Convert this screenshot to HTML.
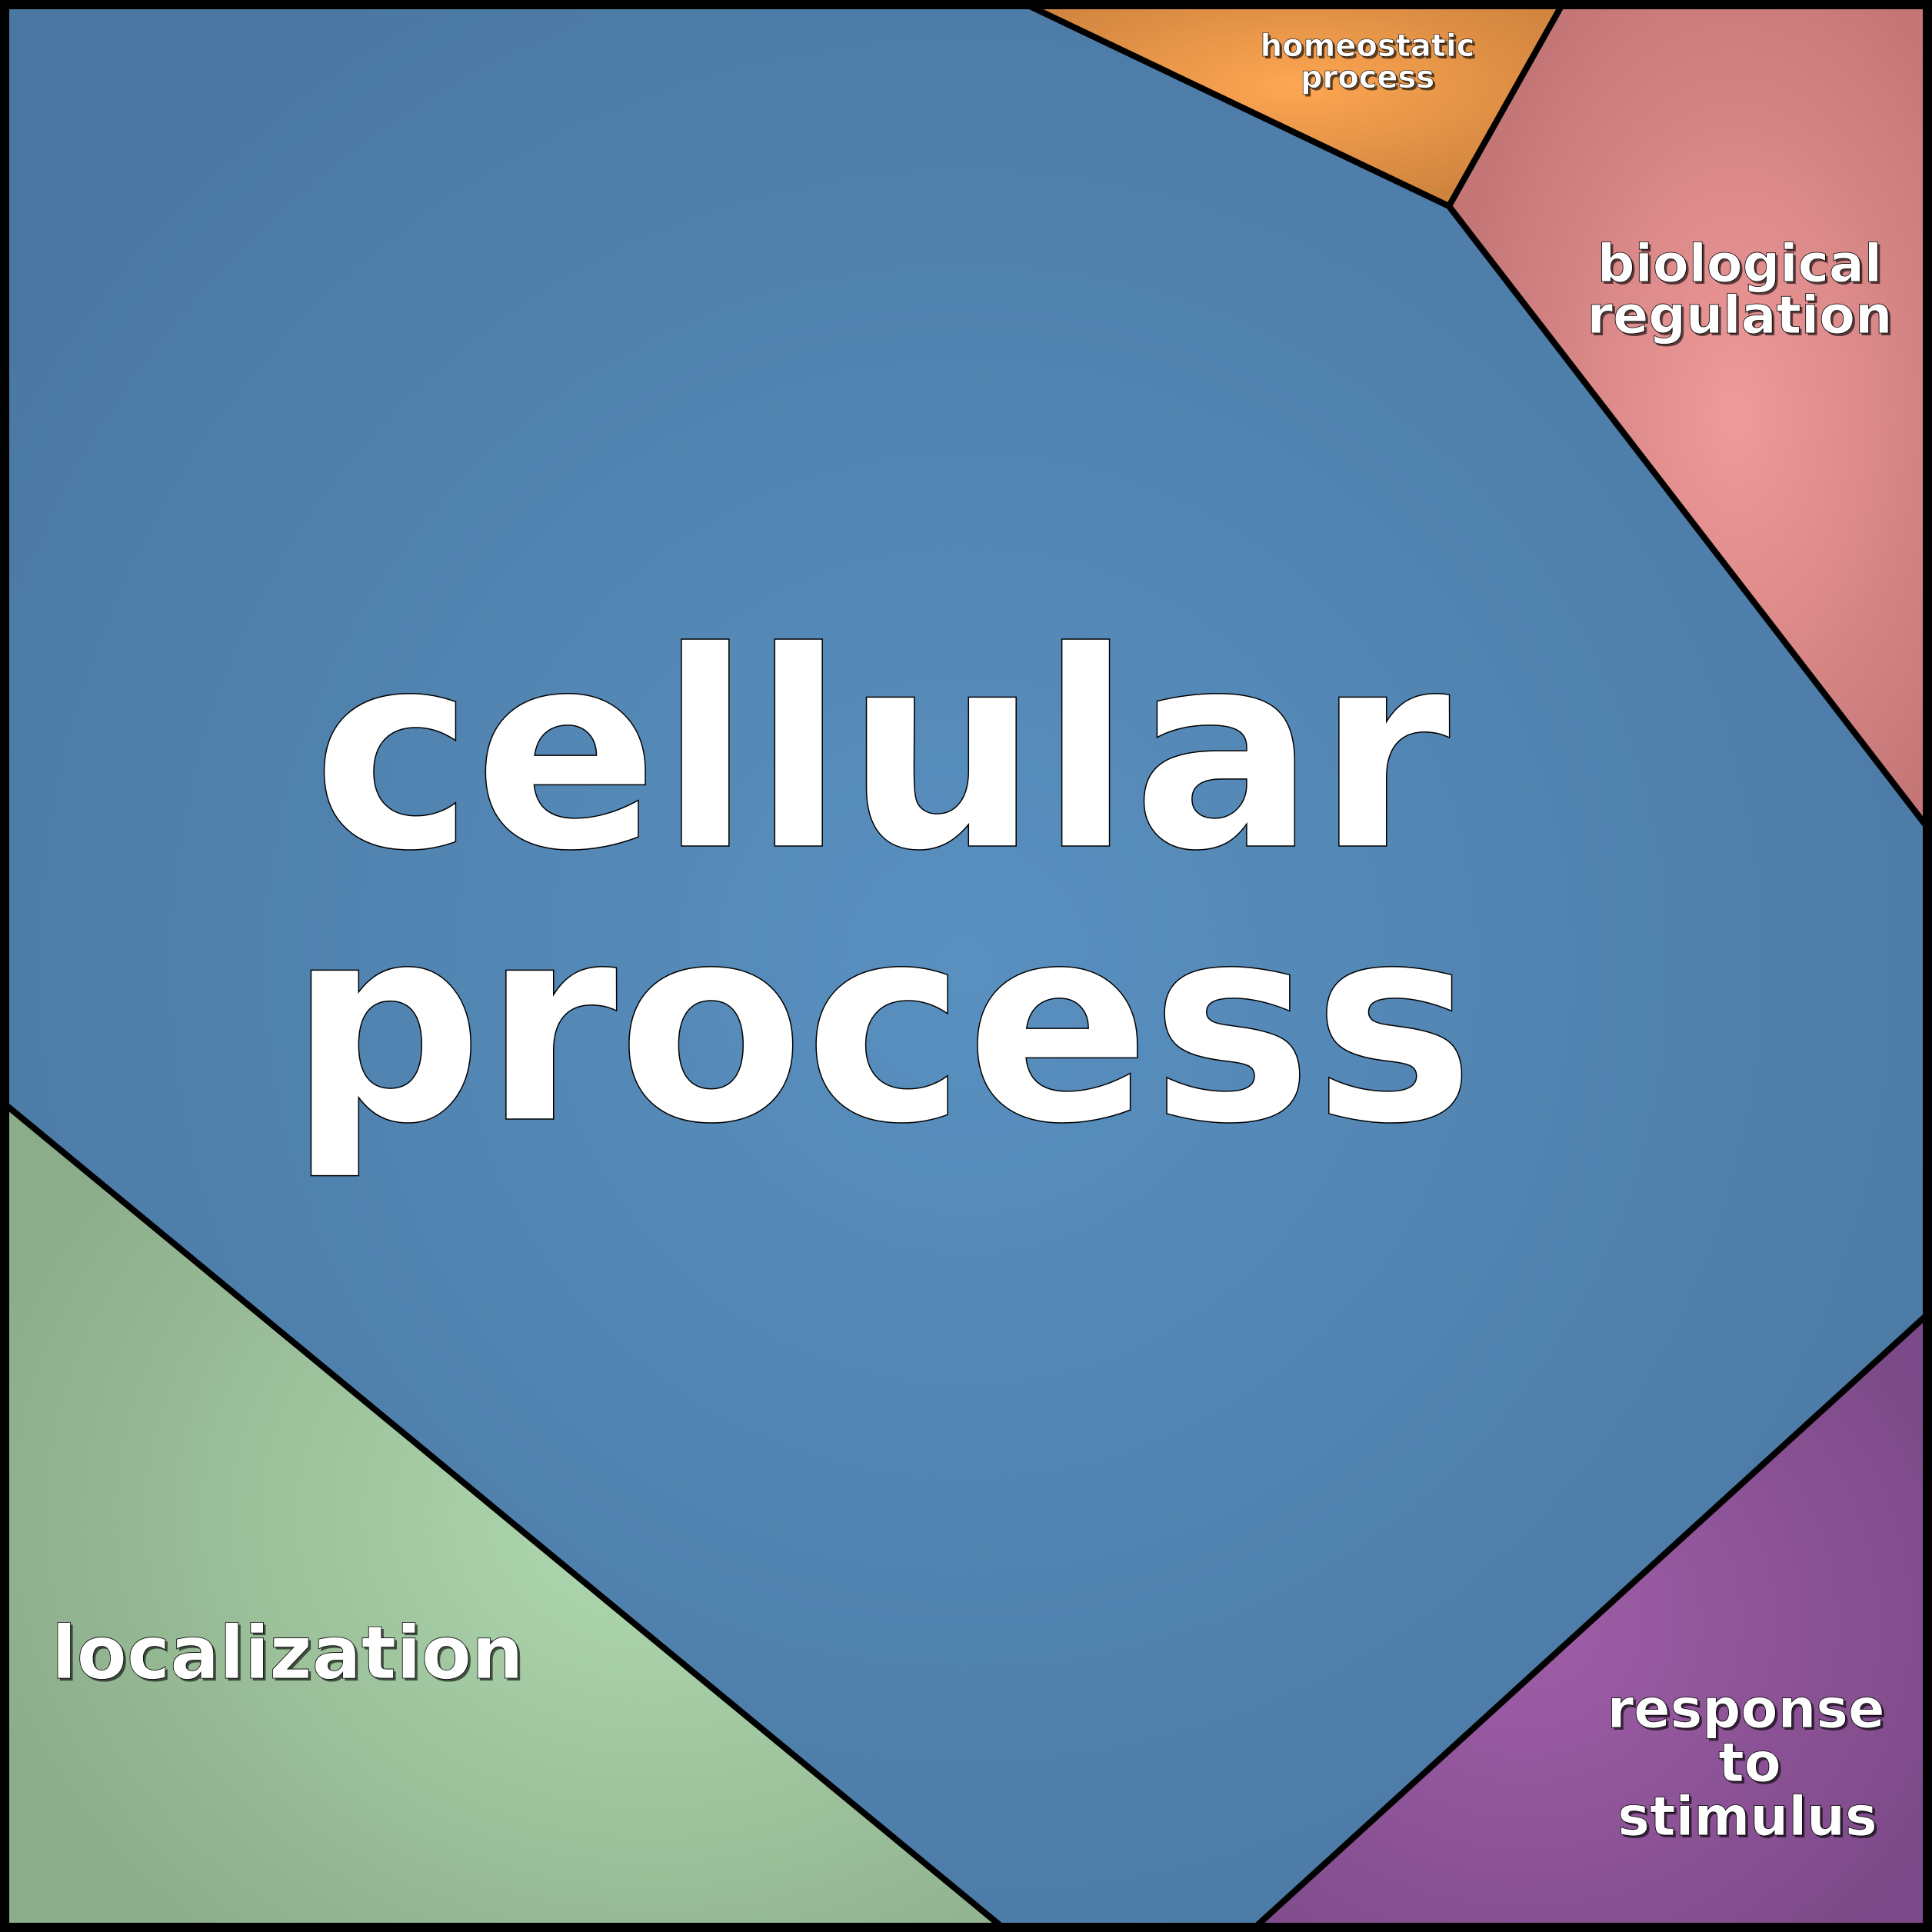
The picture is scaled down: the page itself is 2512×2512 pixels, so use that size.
<!DOCTYPE html>
<html><head><style>html,body{margin:0;padding:0;background:#000}svg{display:block}</style></head>
<body>
<svg width="2512" height="2512" viewBox="0 0 2512 2512" xmlns="http://www.w3.org/2000/svg">
<defs>
<radialGradient id="gb" cx="0.5" cy="0.5" r="0.6"><stop offset="0" stop-color="#5990c0"/><stop offset="1" stop-color="#4a78a2"/></radialGradient>
<radialGradient id="go" cx="0.5" cy="0.4" r="0.6"><stop offset="0" stop-color="#fea652"/><stop offset="1" stop-color="#cf843e"/></radialGradient>
<radialGradient id="gp" cx="0.6" cy="0.5" r="0.6"><stop offset="0" stop-color="#f09a9a"/><stop offset="1" stop-color="#c47676"/></radialGradient>
<radialGradient id="gv" cx="0.4" cy="0.5" r="0.7"><stop offset="0" stop-color="#a05ea8"/><stop offset="1" stop-color="#7c4a88"/></radialGradient>
<radialGradient id="gg" cx="0.65" cy="0.5" r="0.7"><stop offset="0" stop-color="#b0dab0"/><stop offset="1" stop-color="#8cad8a"/></radialGradient>
</defs>
<rect x="0" y="0" width="2512" height="2512" fill="#000"/>
<g stroke="#000" stroke-width="8" stroke-linejoin="round">
<polygon points="8,8 1339,8 1884,268 2504,1073 2504,1711 1634,2504 1301,2504 8,1437" fill="url(#gb)"/>
<polygon points="1339,8 2030,8 1884,268" fill="url(#go)"/>
<polygon points="2030,8 2504,8 2504,1073 1884,268" fill="url(#gp)"/>
<polygon points="2504,1711 2504,2504 1634,2504" fill="url(#gv)"/>
<polygon points="8,1437 8,2504 1301,2504" fill="url(#gg)"/>
</g>
<rect x="4" y="4" width="2504" height="2504" fill="none" stroke="#000" stroke-width="9"/>
<g font-family="DejaVu Sans, Liberation Sans, sans-serif" font-weight="bold" text-anchor="middle" fill="#000" opacity="0.6">
<text x="1781" y="76" font-size="40">homeostatic</text>
<text x="1781" y="117" font-size="40">process</text>
<text x="2265" y="369" font-size="68">biological</text>
<text x="2265" y="436" font-size="68">regulation</text>
<text x="2273" y="2249" font-size="70">response</text>
<text x="2278" y="2319" font-size="70">to</text>
<text x="2275" y="2389" font-size="70">stimulus</text>
<text x="70" y="2185" font-size="95" text-anchor="start">localization</text>
</g>
<g font-family="DejaVu Sans, Liberation Sans, sans-serif" font-weight="bold" fill="#fff" stroke="#000" text-anchor="middle">
<text x="1146" y="1100" font-size="354" stroke-width="1.5">cellular</text>
<text x="1146" y="1455" font-size="354" stroke-width="1.5">process</text>
<text x="1778" y="73" font-size="40" stroke-width="0.6">homeostatic</text>
<text x="1778" y="114" font-size="40" stroke-width="0.6">process</text>
<text x="2262" y="366" font-size="68" stroke-width="0.8">biological</text>
<text x="2262" y="433" font-size="68" stroke-width="0.8">regulation</text>
<text x="2270" y="2246" font-size="70" stroke-width="0.8">response</text>
<text x="2275" y="2316" font-size="70" stroke-width="0.8">to</text>
<text x="2272" y="2386" font-size="70" stroke-width="0.8">stimulus</text>
<text x="67" y="2182" font-size="95" stroke-width="0.8" text-anchor="start">localization</text>
</g>
</svg>
</body></html>
